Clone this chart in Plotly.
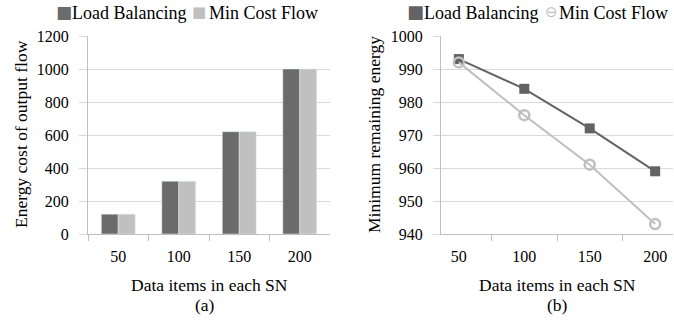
import plotly.graph_objects as go

categories = ["50", "100", "150", "200"]
energy_cost_lb = [120, 320, 620, 1000]
energy_cost_mcf = [120, 320, 620, 1000]
min_energy_lb = [993, 984, 972, 959]
min_energy_mcf = [992, 976, 961, 943]
series_names = ["Load Balancing", "Min Cost Flow"]

DARK = "#6b6b6b"
LIGHT = "#c0c0c0"
LDARK = "#636363"
LLIGHT = "#bfbfbf"
GRID = "#d9d9d9"
AXIS = "#bfbfbf"
FONT = "Liberation Serif, Times New Roman, serif"
SYM = "DejaVu Sans"

W, H = 674, 323


def px(x):
    return x / W


def py(y):
    return 1 - y / H


fig = go.Figure()
fig.add_trace(go.Bar(x=categories, y=energy_cost_lb, name=series_names[0], marker_color=DARK,
                     xaxis="x", yaxis="y"))
fig.add_trace(go.Bar(x=categories, y=energy_cost_mcf, name=series_names[1], marker_color=LIGHT,
                     xaxis="x", yaxis="y"))
fig.add_trace(go.Scatter(x=categories, y=min_energy_lb, name=series_names[0], mode="lines+markers",
                         line=dict(color=LDARK, width=2), marker=dict(symbol="square", size=10, color=LDARK),
                         xaxis="x2", yaxis="y2"))
fig.add_trace(go.Scatter(x=categories, y=min_energy_mcf, name=series_names[1], mode="lines+markers",
                         line=dict(color=LLIGHT, width=2),
                         marker=dict(symbol="circle-open", size=10, color=LLIGHT, line=dict(width=2.5, color=LLIGHT)),
                         xaxis="x2", yaxis="y2"))

ydom = [py(234), py(36)]
common_x = dict(type="category", showgrid=False, showline=True, linecolor=AXIS, linewidth=1,
                ticks="outside", tickson="boundaries", ticklen=6, tickcolor=AXIS,
                ticklabelstandoff=8,
                tickfont=dict(family=FONT, size=16, color="black"), fixedrange=True)
common_y = dict(showgrid=True, gridcolor=GRID, gridwidth=1, showline=True, linecolor=AXIS,
                ticks="outside", tickcolor=GRID, zeroline=False,
                tickfont=dict(family=FONT, size=16, color="black"), fixedrange=True)

legend_items = [
    # (symbol, symbol color, symbol size, symbol center x, text, text left x)
    ("■", DARK, 17, 63.5, series_names[0], 70),
    ("■", LIGHT, 15, 199.5, series_names[1], 207),
    ("■", LDARK, 18, 415, series_names[0], 422),
    ("⊖", LLIGHT, 15, 551, series_names[1], 557),
]
annotations = []
for sym, col, sz, sx, txt, tx in legend_items:
    annotations.append(dict(text=sym, x=px(sx), y=py(12), xref="paper", yref="paper", xanchor="center",
                            yanchor="middle", showarrow=False, font=dict(family=SYM, size=sz, color=col)))
    annotations.append(dict(text=txt, x=px(tx), y=py(13), xref="paper", yref="paper", xanchor="left",
                            yanchor="middle", showarrow=False, font=dict(family=FONT, size=18, color="black")))

title_items = [
    # (text, center x, center y, angle)
    ("Energy cost of output flow", 21, 134, -90),
    ("Minimum remaining energy", 374, 134, -90),
    ("Data items in each SN", 209, 285, 0),
    ("Data items in each SN", 557, 285, 0),
    ("(a)", 205, 305, 0),
    ("(b)", 557, 305, 0),
]
for txt, cx, cy, ang in title_items:
    annotations.append(dict(text=txt, x=px(cx), y=py(cy), xref="paper", yref="paper",
                            xanchor="center", yanchor="middle", textangle=ang, showarrow=False,
                            font=dict(family=FONT, size=17.5, color="black")))

fig.update_layout(
    width=W, height=H,
    margin=dict(l=0, r=0, t=0, b=0, autoexpand=False),
    paper_bgcolor="white", plot_bgcolor="white",
    font=dict(family=FONT, size=16, color="black"),
    showlegend=False,
    hovermode=False,
    barmode="group", bargap=0.44, bargroupgap=0,
    xaxis=dict(domain=[px(88), px(330)], anchor="y", **common_x),
    yaxis=dict(domain=ydom, anchor="x", range=[0, 1200], dtick=200, ticklen=8,
               ticklabelstandoff=7, **common_y),
    xaxis2=dict(domain=[px(441), px(673)], anchor="y2", **common_x),
    yaxis2=dict(domain=ydom, anchor="x2", range=[940, 1000], dtick=10, ticklen=7,
                ticklabelstandoff=7, **common_y),
    annotations=annotations,
)

fig.write_html("out.html", config={"displayModeBar": False, "staticPlot": True},
               post_script="document.body.style.margin='0';")
